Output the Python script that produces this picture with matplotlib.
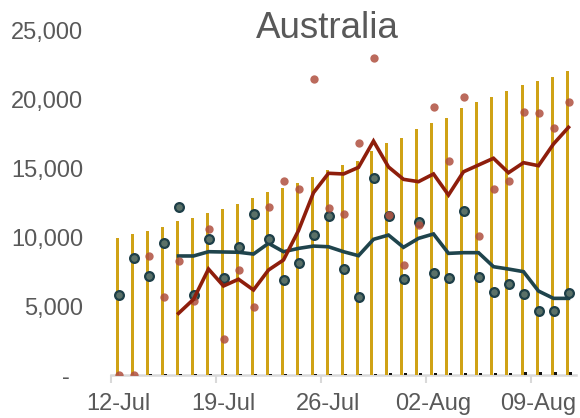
import matplotlib
matplotlib.use("Agg")
import matplotlib.pyplot as plt
import numpy as np
import pandas as pd

plt.rcParams["font.family"] = ["Liberation Sans", "DejaVu Sans"]

dates = pd.date_range("2020-07-12", periods=31, freq="D")

# gold bars (cumulative-style series) and tiny black bars next to them
bar_gold = [9930, 10230, 10470, 10780, 11190, 11390, 11770, 12040, 12410, 12840,
            13280, 13590, 13930, 14370, 14900, 15260, 15550, 16280, 16880, 17260,
            17860, 18290, 18700, 19430, 19860, 20220, 20640, 21050, 21370, 21680,
            22090]
bar_black = [0, 0, 40, 40, 40, 40, 40, 40, 50, 50, 60, 60, 70, 70, 80, 90, 90,
             100, 110, 110, 120, 130, 140, 150, 160, 170, 180, 190, 200, 220, 240]

# red series: daily points and 5-day line
red_pts = [0, 0, 8670, 5650, 8280, 5400, 10610, 2590, 7630, 4960, 12230, 14100,
           13490, 21530, 12110, 11680, 16840, 23060, 11630, 7990, 10900, 19500,
           15550, 20180, 10120, 13490, 14100, 19090, 19060, 17970, 19810]
red_line = [np.nan] * 4 + [4480, 5500, 7700, 6470, 6960, 6180, 7630, 8360, 10500,
                           13250, 14660, 14610, 15090, 17000, 15120, 14220, 14050,
                           14610, 13080, 14770, 15260, 15750, 14700, 15430, 15210,
                           16790, 18000]

# teal series: daily points and 5-day line
teal_pts = [5810, 8480, 7190, 9610, 12230, 5810, 9860, 7070, 9320, 11700, 9880,
            6900, 8160, 10170, 11550, 7680, 5690, 14320, 11580, 6980, 11140, 7390,
            7030, 11920, 7150, 6010, 6610, 5860, 4680, 4650, 5980]
teal_line = [np.nan] * 4 + [8650, 8650, 8960, 8940, 8920, 8790, 9570, 8960, 9200,
                            9370, 9320, 8960, 8670, 9860, 10170, 9280, 9930, 10250,
                            8840, 8890, 8890, 7870, 7700, 7510, 6100, 5570, 5570]

x = np.arange(len(dates))

fig = plt.figure(figsize=(5.8, 4.18), dpi=100)
ax = fig.add_axes([111 / 580, 43 / 418, 465 / 580, 344 / 418])

ax.bar(x - 0.1, bar_gold, width=0.2, color="#CFA216", zorder=1)
ax.bar(x + 0.13, bar_black, width=0.2, color="#111111", zorder=1)

ax.plot(x, teal_line, color="#1F444C", lw=2.6, zorder=2, solid_joinstyle="miter")
ax.scatter(x, teal_pts, s=40, facecolor="#5B7168", edgecolor="#1E3F48",
           linewidth=1.6, zorder=3)
ax.scatter(x, red_pts, s=36, color="#B0503F", alpha=0.85, linewidth=0, zorder=4)
ax.plot(x, red_line, color="#8E1E0C", lw=2.6, zorder=5, solid_joinstyle="miter")

ax.set_xlim(-0.5, 30.5)
ax.set_ylim(0, 25000)

yt = [0, 5000, 10000, 15000, 20000, 25000]
ax.set_yticks(yt)
ax.set_yticklabels(["-  "] + [f"{v:,}" for v in yt[1:]])
ax.tick_params(axis="y", length=0, pad=20, labelsize=17, labelcolor="#595959")

lab_idx = [0, 7, 14, 21, 28]
ax.set_xticks(lab_idx)
ax.set_xticklabels([dates[i].strftime("%d-%b") for i in lab_idx])
ax.tick_params(axis="x", length=0, pad=13, labelsize=17, labelcolor="#595959")
ax.set_xticks([i - 0.5 for i in lab_idx], minor=True)
ax.tick_params(axis="x", which="minor", length=6, width=1.5, color="#D9D9D9",
               direction="out")

for s in ["top", "right", "left"]:
    ax.spines[s].set_visible(False)
ax.spines["bottom"].set_color("#D9D9D9")
ax.spines["bottom"].set_linewidth(1.8)
ax.spines["bottom"].set_zorder(0)

fig.text(327 / 580, (418 - 38) / 418, "Australia", ha="center", va="baseline",
         fontsize=26.5, color="#595959")

fig.savefig("out.png", dpi=100)
